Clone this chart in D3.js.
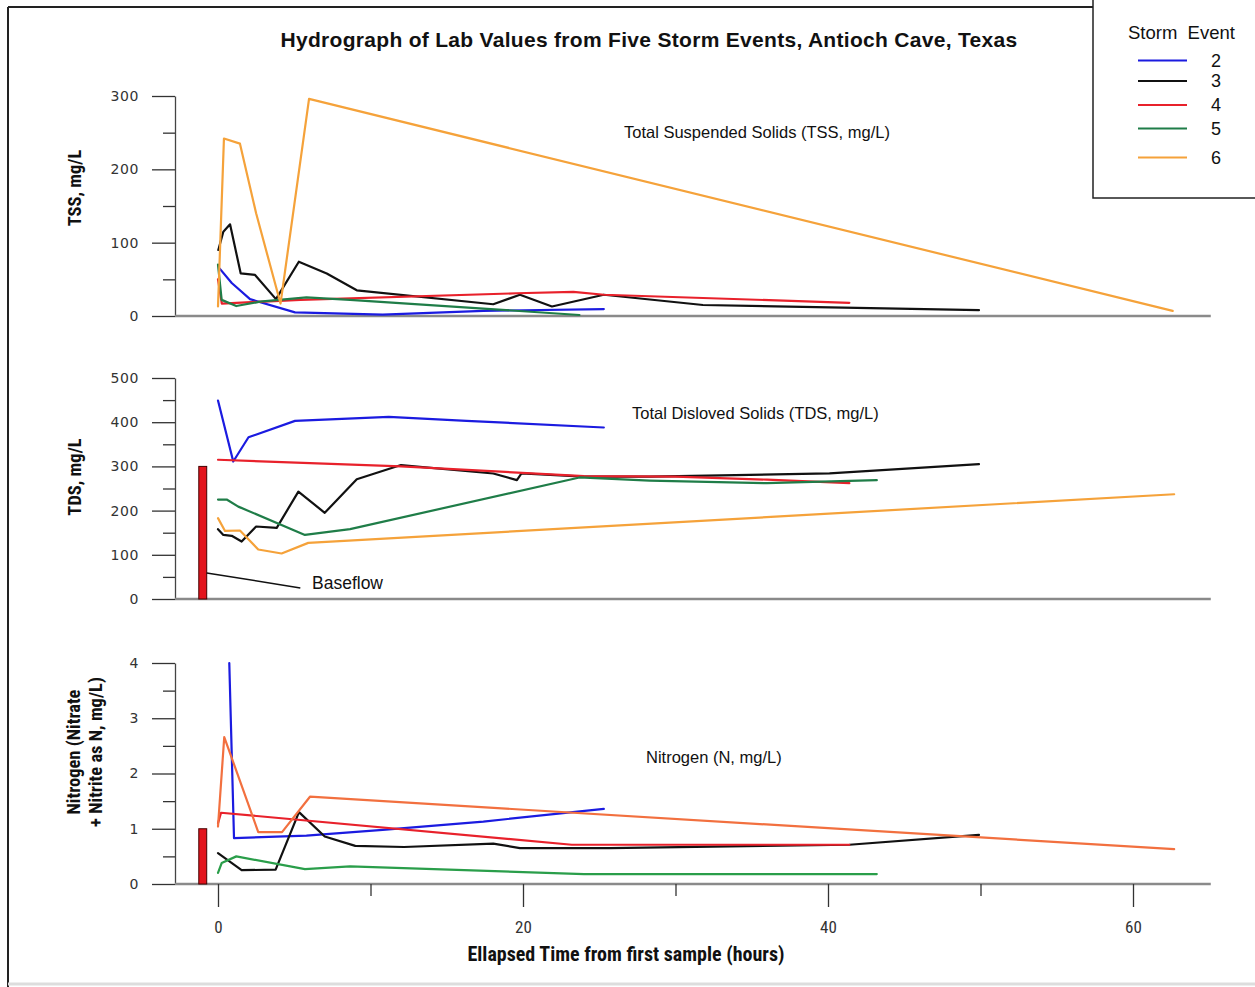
<!DOCTYPE html>
<html>
<head>
<meta charset="utf-8">
<script src="https://cdn.jsdelivr.net/npm/d3@7"></script>
<style>
  html, body { margin: 0; padding: 0; background: #fff; }
  svg { display: block; }
</style>
</head>
<body>
<svg id="chart" width="1255" height="987"></svg>
<script>
// ---------------- DATA ----------------
const title = "Hydrograph of Lab Values from Five Storm Events, Antioch Cave, Texas";
const xTitle = "Ellapsed Time from first sample (hours)";
const events = ["2", "3", "4", "5", "6"];
const eventColors = ["#1b1be0", "#111111", "#e8212b", "#1f7d48", "#f5a23a"];
const xMajorTicks = [0, 20, 40, 60];
const xMinorTicks = [10, 30, 50];

// TSS (mg/L) : [hours, value]
const tss2 = [[0.1,65],[0.9,45],[2.1,23],[5.05,5],[10.8,2],[17.4,7],[25.3,9.5]];
const tss3 = [[0.02,90],[0.35,115],[0.79,125],[1.49,58],[2.43,56],[3.8,23],[5.3,74],[7.13,58],[9.1,35],[18.05,16],[19.8,29],[21.9,13],[25.3,29],[31.8,15],[49.9,8]];
const tss4 = [[0,50],[0.25,17],[5.4,22],[19.6,31],[23.3,33],[25.3,29],[41.4,18]];
const tss5 = [[0,70],[0.24,22],[1.2,13.6],[2.75,19.5],[5.8,25.5],[8.66,22],[23.7,1.4]];
const tss6 = [[0,13],[0.39,242],[1.44,235],[2.5,140],[4.1,17],[5.97,296],[62.6,7]];

// TDS (mg/L)
const tds2 = [[0,449],[1.0,311],[2.0,366],[5.05,403],[11.2,412],[16.3,403],[25.3,388]];
const tds3 = [[0,158],[0.35,145],[0.9,143],[1.55,130],[2.5,164],[3.85,161],[5.27,243],[7.0,195],[9.1,271],[12.0,303],[18.05,284],[19.6,269],[19.9,284],[24,277],[28.3,277],[40.1,284],[49.9,305]];
const tds4 = [[0,315],[12,300],[24,278],[30,277],[36,270],[41.4,262]];
const tds5 = [[0,225],[0.57,225],[1.33,209],[5.7,145],[8.66,158],[23.7,275],[28.3,268],[36,262],[43.2,269]];
const tds6 = [[0,183],[0.46,154],[1.44,155],[2.64,112],[4.17,103],[5.92,127],[62.7,237]];

// Nitrogen (mg/L)
const n2 = [[0.74,4.0],[1.05,0.83],[5.8,0.875],[10.8,0.98],[17.4,1.13],[25.3,1.36]];
const n3 = [[0,0.56],[1.55,0.25],[3.78,0.26],[5.31,1.3],[7.0,0.86],[9.0,0.69],[12.2,0.67],[18.05,0.73],[19.8,0.65],[25.7,0.65],[41.4,0.71],[49.9,0.89]];
const n4 = [[0,1.1],[0.2,1.29],[23.2,0.71],[41.4,0.71]];
const n5 = [[0,0.2],[0.24,0.38],[1.2,0.5],[5.7,0.27],[8.66,0.32],[24,0.18],[43.2,0.18]];
const n6 = [[0,1.04],[0.41,2.66],[2.64,0.94],[4.2,0.94],[6.03,1.58],[62.7,0.63]];

// Baseflow bars
const baseflowTime = -1;
const baseflowTDS = 300;
const baseflowN = 1.0;

// Y ticks
const tssMajor = [0,100,200,300], tssMinor = [50,150,250];
const tdsMajor = [0,100,200,300,400,500], tdsMinor = [50,150,250,350,450];
const nMajor = [0,1,2,3,4], nMinor = [0.5,1.5,2.5,3.5];

// ---------------- DRAW ----------------
const svg = d3.select("#chart");
const x = d3.scaleLinear().domain([0, 60]).range([218, 1133]);
const axisX = 175;
const xEnd = 65.1;

const condensed = "'Liberation Sans Narrow', 'Arial Narrow', 'Roboto Condensed', 'Liberation Sans', sans-serif";
const plain = "'Liberation Sans', Arial, sans-serif";

// outer frame
svg.append("line").attr("x1", 8).attr("y1", 7).attr("x2", 1255).attr("y2", 7).attr("stroke", "#222").attr("stroke-width", 2);
svg.append("line").attr("x1", 8).attr("y1", 7).attr("x2", 8).attr("y2", 987).attr("stroke", "#222").attr("stroke-width", 2);
svg.append("line").attr("x1", 8).attr("y1", 984).attr("x2", 1255).attr("y2", 984).attr("stroke", "#ddd").attr("stroke-width", 3);

// title
svg.append("text").attr("x", 649).attr("y", 47).attr("text-anchor", "middle")
  .attr("font-family", plain).attr("font-weight", "bold").attr("font-size", 21).attr("letter-spacing", 0.3)
  .attr("fill", "#111").text(title);

const panels = [
  { name: "tss", domain: [0, 300], range: [316, 96], major: tssMajor, minor: tssMinor,
    series: [tss2, tss3, tss4, tss5, tss6], colors: eventColors,
    label: "Total Suspended Solids (TSS, mg/L)", lx: 624, ly: 138,
    ylab: ["TSS, mg/L"], ylabY: 188 },
  { name: "tds", domain: [0, 500], range: [599, 378], major: tdsMajor, minor: tdsMinor,
    series: [tds2, tds3, tds4, tds5, tds6], colors: eventColors,
    label: "Total Disloved Solids (TDS, mg/L)", lx: 632, ly: 419,
    ylab: ["TDS, mg/L"], ylabY: 477, bar: baseflowTDS },
  { name: "n", domain: [0, 4], range: [884, 663], major: nMajor, minor: nMinor,
    series: [n2, n3, n4, n5, n6], colors: ["#1b1be0", "#111111", "#e8212b", "#2a9e4a", "#f2703f"],
    label: "Nitrogen (N, mg/L)", lx: 646, ly: 763,
    ylab: ["Nitrogen (Nitrate", "+ Nitrite as N, mg/L)"], ylabY: 752, bar: baseflowN }
];

panels.forEach(p => {
  const y = d3.scaleLinear().domain(p.domain).range(p.range);
  const g = svg.append("g");

  // minor ticks
  const minorAxis = d3.axisLeft(y).tickValues(p.minor).tickSize(12).tickSizeOuter(0).tickFormat("");
  const gm = g.append("g").attr("transform", `translate(${axisX},0)`).call(minorAxis);
  gm.select(".domain").remove();
  gm.selectAll("line").attr("stroke", "#333").attr("stroke-width", 1.3);

  // major ticks + domain
  const majorAxis = d3.axisLeft(y).tickValues(p.major).tickSize(23).tickSizeOuter(0).tickPadding(13)
    .tickFormat(d3.format("~g"));
  const ga = g.append("g").attr("transform", `translate(${axisX},0)`).call(majorAxis);
  ga.select(".domain").attr("stroke", "#444").attr("stroke-width", 1.3);
  ga.selectAll("line").attr("stroke", "#333").attr("stroke-width", 1.3);
  ga.selectAll("text").attr("font-family", "'DejaVu Sans', sans-serif").attr("font-size", 14)
    .attr("fill", "#333").attr("letter-spacing", 0.6);

  // baseline
  g.append("line").attr("x1", axisX).attr("x2", x(xEnd)).attr("y1", y(0)).attr("y2", y(0))
    .attr("stroke", "#8a8a8a").attr("stroke-width", 2.5);

  // baseflow bar
  if (p.bar !== undefined) {
    const bx0 = x(baseflowTime - 0.26), bx1 = x(baseflowTime + 0.26);
    g.append("rect").attr("x", bx0).attr("y", y(p.bar)).attr("width", bx1 - bx0)
      .attr("height", y(0) - y(p.bar)).attr("fill", "#e3141c").attr("stroke", "#400").attr("stroke-width", 1);
  }

  // series lines
  const line = d3.line().x(d => x(d[0])).y(d => y(d[1]));
  p.series.forEach((s, i) => {
    g.append("path").datum(s).attr("d", line).attr("fill", "none")
      .attr("stroke", p.colors[i]).attr("stroke-width", 2.2)
      .attr("stroke-linejoin", "round").attr("stroke-linecap", "round");
  });

  // panel label
  g.append("text").attr("x", p.lx).attr("y", p.ly).attr("font-family", plain)
    .attr("font-size", 16.5).attr("fill", "#111").text(p.label);

  // y-axis label
  const n = p.ylab.length;
  p.ylab.forEach((t, i) => {
    const lx = 81 + (i - (n - 1) / 2) * 22 + (n > 1 ? 10 : 0);
    g.append("text").attr("transform", `translate(${lx},${p.ylabY}) rotate(-90)`)
      .attr("text-anchor", "middle").attr("font-family", condensed).attr("font-weight", "bold")
      .attr("font-size", 18.5).attr("fill", "#111").text(t);
  });

  // Baseflow annotation in TDS panel
  if (p.name === "tds") {
    g.append("line").attr("x1", x(baseflowTime + 0.26)).attr("y1", y(59))
      .attr("x2", x(5.4)).attr("y2", y(25)).attr("stroke", "#111").attr("stroke-width", 1.5);
    g.append("text").attr("x", 312).attr("y", 589).attr("font-family", plain)
      .attr("font-size", 17.5).attr("fill", "#111").text("Baseflow");
  }

  // bottom x-axis only on last panel
  if (p.name === "n") {
    const xm = d3.axisBottom(x).tickValues(xMinorTicks).tickSize(12).tickFormat("");
    const gxm = g.append("g").attr("transform", `translate(0,${y(0)})`).call(xm);
    gxm.select(".domain").remove();
    gxm.selectAll("line").attr("stroke", "#333").attr("stroke-width", 1.3);
    const xa = d3.axisBottom(x).tickValues(xMajorTicks).tickSize(23).tickPadding(14);
    const gxa = g.append("g").attr("transform", `translate(0,${y(0)})`).call(xa);
    gxa.select(".domain").remove();
    gxa.selectAll("line").attr("stroke", "#333").attr("stroke-width", 1.3);
    gxa.selectAll("text").attr("font-family", condensed).attr("font-size", 17).attr("fill", "#333");
    g.append("text").attr("x", 626).attr("y", 961).attr("text-anchor", "middle")
      .attr("font-family", condensed).attr("font-weight", "bold").attr("font-size", 20)
      .attr("fill", "#111").text(xTitle);
  }
});

// legend
const lg = svg.append("g");
lg.append("rect").attr("x", 1093).attr("y", -3).attr("width", 175).attr("height", 201)
  .attr("fill", "#fff").attr("stroke", "#222").attr("stroke-width", 1.5);
lg.append("text").attr("x", 1128).attr("y", 39).attr("font-family", plain).attr("font-size", 18.5)
  .attr("fill", "#111").style("white-space", "pre").text("Storm  Event");
const legendY = [60.5, 81, 105, 128.5, 157.5];
events.forEach((e, i) => {
  lg.append("line").attr("x1", 1138).attr("x2", 1187).attr("y1", legendY[i]).attr("y2", legendY[i])
    .attr("stroke", eventColors[i]).attr("stroke-width", 2.2);
  lg.append("text").attr("x", 1216).attr("y", legendY[i] + 6).attr("text-anchor", "middle")
    .attr("font-family", plain).attr("font-size", 18).attr("fill", "#111").text(e);
});
</script>
</body>
</html>
